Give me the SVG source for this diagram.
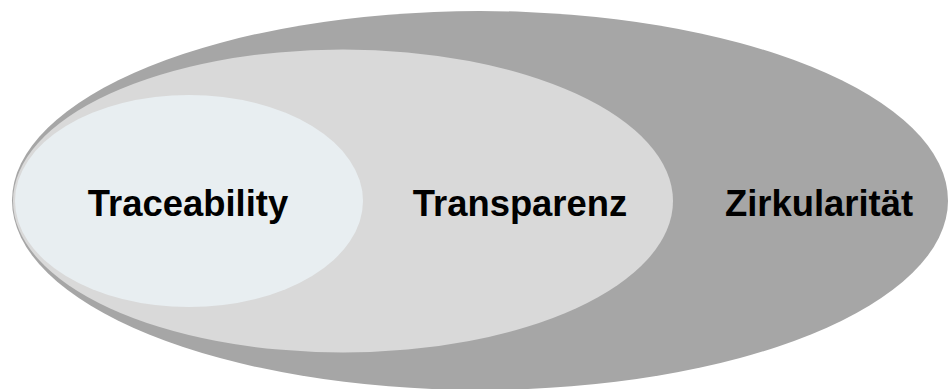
<svg xmlns="http://www.w3.org/2000/svg" width="948" height="389" viewBox="0 0 948 389">
<style>
.lbl{font-family:"Liberation Sans",Arial,sans-serif;font-weight:bold;font-size:36.4px;fill:#000;text-anchor:middle}
</style>
<rect width="948" height="389" fill="#fff"/>
<g id="zirkularitaet">
<ellipse cx="480" cy="200.5" rx="468" ry="189.5" fill="#a6a6a6"/>
<text class="lbl" x="819" y="216">Zirkularität</text>
</g>
<g id="transparenz">
<ellipse cx="343" cy="201" rx="330" ry="151.5" fill="#d9d9d9"/>
<text class="lbl" x="520" y="216">Transparenz</text>
</g>
<g id="traceability">
<ellipse cx="189" cy="201" rx="174" ry="106" fill="#e8eef1"/>
<text class="lbl" x="188" y="216">Traceability</text>
</g>
<g id="connectors"/>
</svg>
